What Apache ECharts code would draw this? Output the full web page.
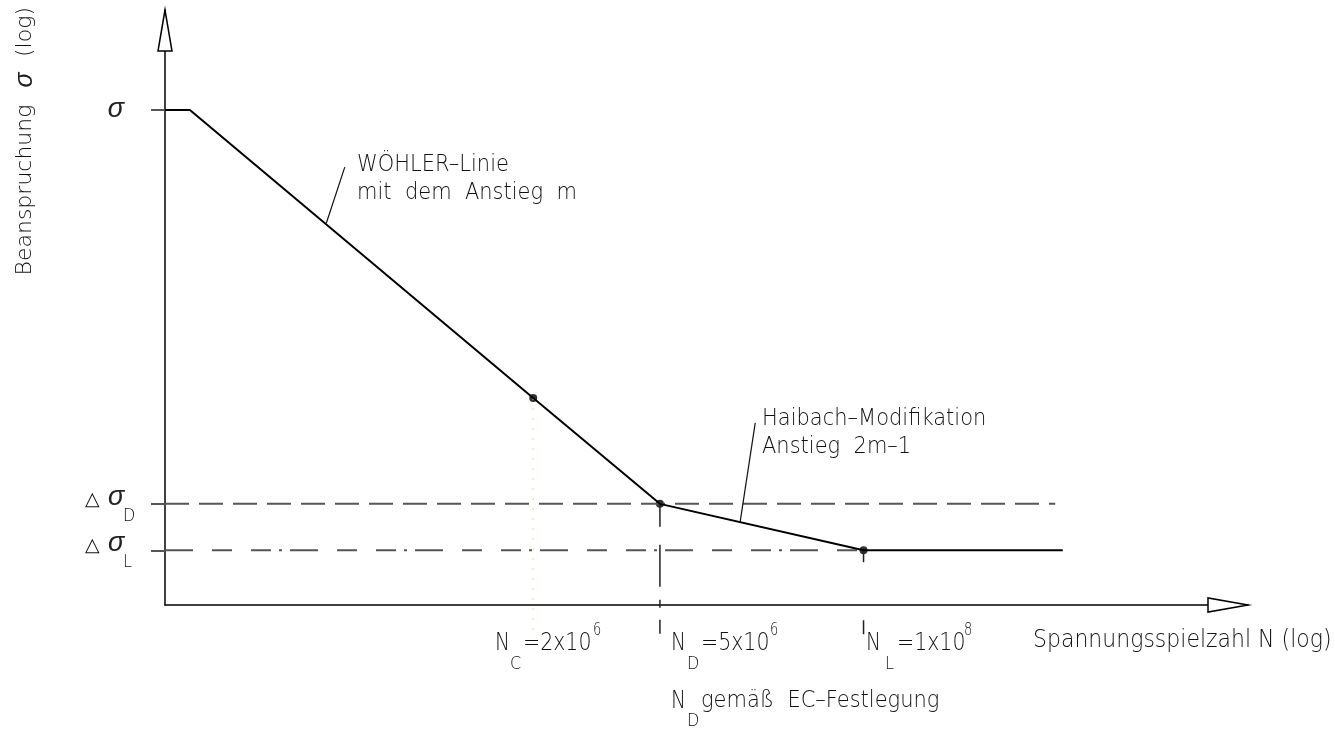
<!DOCTYPE html>
<html>
<head>
<meta charset="utf-8">
<script src="https://cdn.jsdelivr.net/npm/echarts@6/dist/echarts.min.js"></script>
<style>
html,body{margin:0;padding:0;background:#fff;}
#chart{width:1335px;height:732px;}
</style>
</head>
<body>
<div id="chart"></div>
<script>
// Schematic S-N (Wöhler) diagram, both axes in schematic log units (0..100)
const curveX = [0, 2.3, 34.0, 45.7, 64.5, 82.9];
const curveY = [83.2, 83.2, 34.8, 17.0, 9.2, 9.2];
const pointX = [34.0, 45.7, 64.5];
const pointY = [34.8, 17.0, 9.2];
const sigmaLevels = { sigma: 83.2, sigmaD: 17.0, sigmaL: 9.2 };
const nLevels = { NC: 34.0, ND: 45.7, NL: 64.5 };
const dashedEndX = 82.2;
const belowAxisY = -4.9;
const leaderWoehler = [[16.6, 73.6], [14.9, 64.2]];
const leaderHaibach = [[54.5, 30.6], [53.1, 13.9]];

const chart = echarts.init(document.getElementById('chart'), null, {renderer: 'canvas'});
const FONT = 'DejaVu Sans';
const TXT = '#111';

function pairs(xs, ys) { return xs.map((x, i) => [x, ys[i]]); }

const option = {
  animation: false,
  grid: {left: 165, right: 87, top: 10, bottom: 127, containLabel: false},
  xAxis: {type: 'value', min: 0, max: 100,
    axisLine: {show: true, lineStyle: {color: '#000', width: 1.5}},
    axisTick: {show: false}, axisLabel: {show: false}, splitLine: {show: false}},
  yAxis: {type: 'value', min: 0, max: 100,
    axisLine: {show: true, lineStyle: {color: '#000', width: 1.5}},
    axisTick: {show: true, length: 14, customValues: [sigmaLevels.sigma, sigmaLevels.sigmaD, sigmaLevels.sigmaL],
      lineStyle: {color: '#555', width: 2}},
    axisLabel: {show: false}, splitLine: {show: false}},
  series: [
    {name: 'sigmaD', type: 'line', clip: false, symbol: 'none', silent: true,
      lineStyle: {color: '#555', width: 2, type: [24, 10]},
      data: [[0, sigmaLevels.sigmaD], [dashedEndX, sigmaLevels.sigmaD]]},
    {name: 'sigmaL', type: 'line', clip: false, symbol: 'none', silent: true,
      lineStyle: {color: '#555', width: 2, type: [28, 19, 20, 19, 20, 8, 3, 8]},
      data: [[0, sigmaLevels.sigmaL], [nLevels.NL, sigmaLevels.sigmaL]]},
    {name: 'vND', type: 'line', clip: false, symbol: 'none', silent: true,
      lineStyle: {color: '#222', width: 1.5, type: [23, 18, 42, 13, 8, 12, 14, 60]},
      data: [[nLevels.ND, sigmaLevels.sigmaD], [nLevels.ND, belowAxisY]]},
    {name: 'vNL', type: 'line', clip: false, symbol: 'none', silent: true,
      lineStyle: {color: '#222', width: 1.5, type: [12, 58, 14, 100]},
      data: [[nLevels.NL, sigmaLevels.sigmaL], [nLevels.NL, belowAxisY]]},
    {name: 'vNC', type: 'line', clip: false, symbol: 'none', silent: true,
      lineStyle: {color: '#eeee55', width: 1.2, type: [2, 8]},
      data: [[nLevels.NC, pointY[0]], [nLevels.NC, belowAxisY - 0.4]]},
    {name: 'curve', type: 'line', clip: false, symbol: 'none', silent: true,
      lineStyle: {color: '#000', width: 2},
      data: pairs(curveX, curveY)},
    {name: 'leaderW', type: 'line', symbol: 'none', silent: true,
      lineStyle: {color: '#111', width: 1.2}, data: leaderWoehler},
    {name: 'leaderH', type: 'line', symbol: 'none', silent: true,
      lineStyle: {color: '#111', width: 1.2}, data: leaderHaibach},
    {name: 'points', type: 'scatter', symbol: 'circle', symbolSize: 8, silent: true,
      itemStyle: {color: '#000'}, data: pairs(pointX, pointY)}
  ]
};
chart.setOption(option);

const tip = chart.convertToPixel('grid', [0, 100]);
const xTip = chart.convertToPixel('grid', [100, 0]);

function t(text, x, y, size, opts) {
  opts = opts || {};
  return {type: 'text', x: x, y: y, rotation: opts.rot || 0, z: 10,
    scaleX: opts.sx || 1, scaleY: opts.sy || 1,
    style: {text: text, fill: opts.fill || TXT,
      font: (opts.style || 'normal') + ' ' + (opts.weight || 200) + ' ' + size + 'px "' + (opts.family || FONT) + '"',
      textAlign: opts.align || 'left', textVerticalAlign: opts.va || 'middle'}};
}
const ital = {style: 'italic', weight: 400, family: 'Liberation Sans', fill: '#222'};
const big = {sy: 1.25};
const small = {sy: 1.15};
const sup = {sy: 1.3};
const ann = {sy: 1.1};

const g = [
  {type: 'polygon', z: 20, shape: {points: [[tip[0], tip[1]], [tip[0] - 7, tip[1] + 41], [tip[0] + 7, tip[1] + 41]]},
    style: {fill: '#fff', stroke: '#000', lineWidth: 1.5}},
  {type: 'polygon', z: 20, shape: {points: [[xTip[0], xTip[1]], [xTip[0] - 40, xTip[1] - 7], [xTip[0] - 40, xTip[1] + 7]]},
    style: {fill: '#fff', stroke: '#000', lineWidth: 1.5}},
  // y-axis title
  t('Beanspruchung', 25, 190, 22, {rot: Math.PI / 2, align: 'center'}),
  t('σ', 25, 80, 25, Object.assign({rot: Math.PI / 2, align: 'center'}, ital)),
  t('(log)', 25, 32, 22, {rot: Math.PI / 2, align: 'center'}),
  // sigma labels
  t('σ', 116, 109, 27, Object.assign({align: 'center'}, ital)),
  t('△', 85, 500, 19),
  t('σ', 108, 497, 27, ital),
  t('D', 123, 516, 16, small),
  t('△', 85, 546, 19),
  t('σ', 108, 543, 27, ital),
  t('L', 123, 562, 16, small),
  // annotations
  t('WÖHLER–Linie', 357, 165, 21, ann),
  t('mit  dem  Anstieg  m', 357, 193, 21, ann),
  t('Haibach–Modifikation', 762, 419, 21, ann),
  t('Anstieg  2m–1', 762, 447, 21, ann),
  // x labels
  t('N', 495, 643, 20, big), t('C', 510, 664, 16, small), t('=2x10', 523, 643, 20.5, big), t('6', 593, 631, 13, sup),
  t('N', 671, 643, 20, big), t('D', 687, 664, 16, small), t('=5x10', 701, 643, 20.5, big), t('6', 770, 631, 13, sup),
  t('N', 866, 643, 20, big), t('L', 885, 664, 16, small), t('=1x10', 897, 643, 20.5, big), t('8', 964, 631, 13, sup),
  t('N', 671, 701, 20, big), t('D', 687, 721, 16, small), t('gemäß  EC–Festlegung', 701, 701, 21, ann),
  t('Spannungsspielzahl N (log)', 1033, 641, 22, {sy: 1.12})
];
chart.setOption({graphic: g});
</script>
</body>
</html>
